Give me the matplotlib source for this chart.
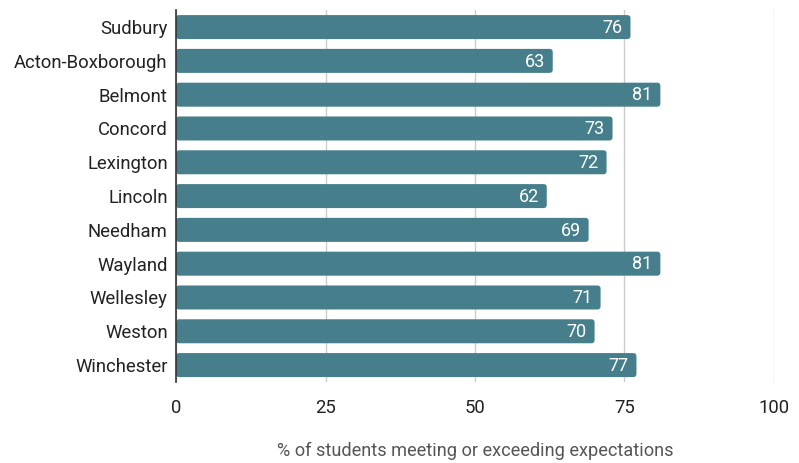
import matplotlib.pyplot as plt
from matplotlib.patches import FancyBboxPatch

plt.rcParams['font.family'] = ['Roboto', 'DejaVu Sans']

districts = ['Sudbury', 'Acton-Boxborough', 'Belmont', 'Concord', 'Lexington',
             'Lincoln', 'Needham', 'Wayland', 'Wellesley', 'Weston', 'Winchester']
percent_meeting = [76, 63, 81, 73, 72, 62, 69, 81, 71, 70, 77]
x_ticks = [0, 25, 50, 75, 100]

bar_color = '#467f8b'
bar_h = 0.71

fig = plt.figure(figsize=(7.99, 4.63), dpi=100)
ax = fig.add_axes([0.2203, 0.175, 0.7484, 0.803])

ax.set_ylim(len(districts) - 0.5, -0.5)
ax.set_xlim(0, 100)

# aspect of data units (y px per unit vs x px per unit) for rounded corners
aspect = (0.7484 * 799 / 100) / (0.803 * 463 / len(districts))

pos = list(range(len(districts)))
for p, v in zip(pos, percent_meeting):
    bar = FancyBboxPatch((0, p - bar_h / 2), v, bar_h,
                         boxstyle='round,pad=0,rounding_size=0.55',
                         mutation_aspect=aspect, facecolor=bar_color,
                         edgecolor='none', zorder=3)
    ax.add_patch(bar)
    ax.text(v - 1.3, p + 0.02, str(v), ha='right', va='center', color='white',
            fontsize=13, zorder=4)

ax.set_yticks(pos)
ax.set_yticklabels(districts, fontsize=13.3, color='#222222')
ax.set_xticks(x_ticks)
ax.set_xticklabels([str(t) for t in x_ticks], fontsize=13.3, color='#222222')
ax.tick_params(axis='y', length=0, pad=6)
ax.tick_params(axis='x', length=0, pad=12)

ax.grid(axis='x', color='#cccccc', linewidth=1, zorder=0)
for s in ['top', 'right', 'bottom']:
    ax.spines[s].set_visible(False)
ax.spines['left'].set_color('#333333')
ax.spines['left'].set_linewidth(1.2)
ax.spines['left'].set_zorder(5)

ax.set_xlabel('% of students meeting or exceeding expectations', fontsize=13.1,
              color='#555555', labelpad=18)

fig.savefig('out.png', dpi=100)
